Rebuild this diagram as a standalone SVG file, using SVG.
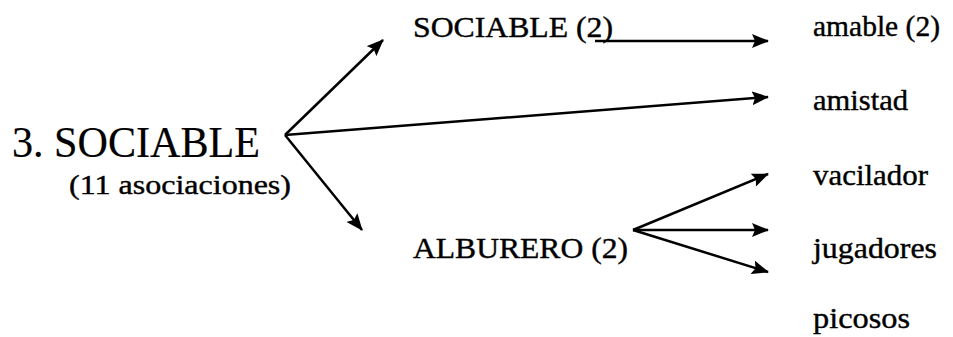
<svg xmlns="http://www.w3.org/2000/svg" width="953" height="337" viewBox="0 0 953 337">
<defs>
<marker id="ah" viewBox="0 0 17 14" refX="16" refY="7" markerWidth="17" markerHeight="14" markerUnits="userSpaceOnUse" orient="auto">
<path d="M0,0 L17,7 L0,14 L3,7 z" fill="#000"/>
</marker>
<style>
text{font-family:"Liberation Serif","Times New Roman",serif;fill:#000;stroke:#000;stroke-width:0.4}
.t{font-size:30px}
.c{stroke:#000;stroke-width:2.5;fill:none;marker-end:url(#ah)}
</style>
</defs>
<rect width="953" height="337" fill="#fff"/>
<g id="connectors">
<line class="c" x1="285" y1="135" x2="383" y2="40"/>
<line class="c" x1="285" y1="135" x2="768" y2="97"/>
<line class="c" x1="285" y1="135" x2="362" y2="230"/>
<line class="c" x1="595" y1="41" x2="768" y2="41"/>
<line class="c" x1="633" y1="230" x2="768" y2="174"/>
<line class="c" x1="633" y1="230" x2="768" y2="230"/>
<line class="c" x1="633" y1="230" x2="768" y2="272"/>
</g>
<g id="root">
<text x="12" y="157" font-size="44" textLength="248" lengthAdjust="spacingAndGlyphs" style="stroke-width:0.2">3. SOCIABLE</text>
<text x="69" y="194" font-size="28" textLength="222" lengthAdjust="spacingAndGlyphs">(11 asociaciones)</text>
</g>
<g id="sociable2"><text class="t" x="413" y="37" textLength="200" lengthAdjust="spacingAndGlyphs">SOCIABLE (2)</text></g>
<g id="alburero2"><text class="t" x="413" y="258" textLength="215" lengthAdjust="spacingAndGlyphs">ALBURERO (2)</text></g>
<g id="amable"><text class="t" x="813" y="36" textLength="127" lengthAdjust="spacingAndGlyphs">amable (2)</text></g>
<g id="amistad"><text class="t" x="813" y="110" textLength="95" lengthAdjust="spacingAndGlyphs">amistad</text></g>
<g id="vacilador"><text class="t" x="813" y="185" textLength="115" lengthAdjust="spacingAndGlyphs">vacilador</text></g>
<g id="jugadores"><text class="t" x="813" y="258" textLength="124" lengthAdjust="spacingAndGlyphs">jugadores</text></g>
<g id="picosos"><text class="t" x="813" y="328" textLength="97" lengthAdjust="spacingAndGlyphs">picosos</text></g>
</svg>
